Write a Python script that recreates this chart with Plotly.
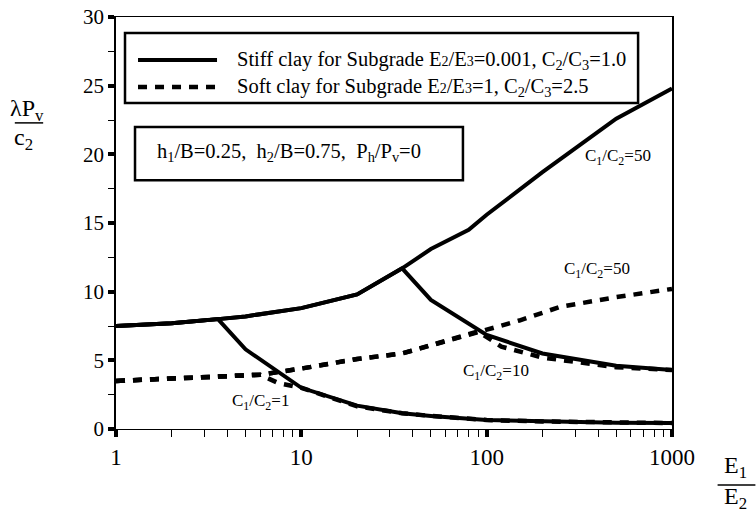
#!/usr/bin/env python3
"""Bearing capacity factor vs. modulus ratio E1/E2 (log scale)."""

import math
import plotly.graph_objects as go

# E1/E2 values and lambda*Pv/c2 readings, stiff clay subgrade (solid lines)
stiff_50_x = [1, 2, 3.55, 5, 10, 20, 35, 50, 80, 100, 200, 500, 1000]
stiff_50_y = [7.5, 7.7, 8.0, 8.2, 8.8, 9.8, 11.7, 13.1, 14.5, 15.6, 18.7, 22.6, 24.8]

stiff_10_x = [1, 2, 3.55, 5, 10, 20, 35, 50, 100, 200, 500, 1000]
stiff_10_y = [7.5, 7.7, 8.0, 8.2, 8.8, 9.8, 11.7, 9.4, 6.85, 5.5, 4.6, 4.3]

stiff_1_x = [1, 2, 3.55, 5, 10, 20, 35, 50, 100, 200, 500, 1000]
stiff_1_y = [7.5, 7.7, 8.0, 5.8, 3.0, 1.7, 1.15, 0.95, 0.65, 0.55, 0.45, 0.43]

# soft clay subgrade (dashed lines)
soft_50_x = [1, 2, 4, 6, 10, 20, 35, 50, 90, 150, 250, 500, 1000]
soft_50_y = [3.5, 3.7, 3.85, 3.95, 4.4, 5.1, 5.5, 6.1, 7.1, 7.9, 8.9, 9.6, 10.2]

soft_10_x = [1, 2, 4, 6, 10, 20, 35, 50, 90, 120, 200, 500, 1000]
soft_10_y = [3.5, 3.7, 3.85, 3.95, 4.4, 5.1, 5.5, 6.1, 7.1, 6.0, 5.2, 4.5, 4.3]

soft_1_x = [1, 2, 4, 6, 7.5, 10, 20, 35, 50, 100, 200, 500, 1000]
soft_1_y = [3.5, 3.7, 3.85, 3.95, 3.35, 3.0, 1.65, 1.15, 0.95, 0.65, 0.55, 0.45, 0.43]

# curve labels: (text, E1/E2, y)
curve_labels = [
    ("C<sub>1</sub>/C<sub>2</sub>=50", 510, 19.8),
    ("C<sub>1</sub>/C<sub>2</sub>=50", 395, 11.6),
    ("C<sub>1</sub>/C<sub>2</sub>=10", 112, 4.15),
    ("C<sub>1</sub>/C<sub>2</sub>=1", 6.05, 1.95),
]

y_ticks = [0, 5, 10, 15, 20, 25, 30]
x_ticks = [1, 10, 100, 1000]

FONT = "Liberation Serif, Times New Roman, serif"
SOLID = dict(color="black", width=4)
DASHED = dict(color="black", width=4.5, dash="9px,8px")
SP = "&nbsp;"


def small(d):
    return f'<span style="font-size:14px">{d}</span>'


def main():
    fig = go.Figure()

    for xs, ys in [(stiff_1_x, stiff_1_y), (stiff_10_x, stiff_10_y), (stiff_50_x, stiff_50_y)]:
        fig.add_trace(go.Scatter(x=xs, y=ys, mode="lines", line=SOLID, showlegend=False))
    for xs, ys in [(soft_1_x, soft_1_y), (soft_10_x, soft_10_y), (soft_50_x, soft_50_y)]:
        fig.add_trace(go.Scatter(x=xs, y=ys, mode="lines", line=DASHED, showlegend=False))

    # annotation x on a log axis is given as log10(value)
    for text, x, y in curve_labels:
        fig.add_annotation(x=math.log10(x), y=y, xref="x", yref="y", text=text, showarrow=False,
                           xanchor="center", yanchor="middle",
                           font=dict(family=FONT, size=17, color="black"))

    # legend box drawn by hand (long line samples)
    fig.add_shape(type="rect", xref="paper", yref="paper", x0=0.0162, x1=0.939, y0=0.791, y1=0.961,
                  line=dict(color="black", width=2.5), fillcolor="white", layer="above")
    fig.add_shape(type="line", xref="paper", yref="paper", x0=0.0396, x1=0.1817, y0=0.8956, y1=0.8956,
                  line=SOLID, layer="above")
    fig.add_shape(type="line", xref="paper", yref="paper", x0=0.0396, x1=0.1817, y0=0.830, y1=0.830,
                  line=DASHED, layer="above")
    legend_rows = [
        (f"Stiff clay for Subgrade E{small(2)}/E{small(3)}=0.001, C<sub>2</sub>/C<sub>3</sub>=1.0", 0.8956),
        (f"Soft clay for Subgrade E{small(2)}/E{small(3)}=1, C<sub>2</sub>/C<sub>3</sub>=2.5", 0.830),
    ]
    for text, y in legend_rows:
        fig.add_annotation(x=0.214, y=y, xref="paper", yref="paper", text=text, showarrow=False,
                           xanchor="left", yanchor="middle", font=dict(family=FONT, size=20.5, color="black"))

    # parameter box
    fig.add_shape(type="rect", xref="paper", yref="paper", x0=0.0342, x1=0.624, y0=0.604, y1=0.733,
                  line=dict(color="black", width=2.5), fillcolor="white", layer="above")
    fig.add_annotation(x=0.070, y=0.670, xref="paper", yref="paper",
                       text=f"h<sub>1</sub>/B=0.25,{SP} h<sub>2</sub>/B=0.75,{SP} P<sub>h</sub>/P<sub>v</sub>=0",
                       showarrow=False, xanchor="left", yanchor="middle",
                       font=dict(family=FONT, size=20.5, color="black"))

    # axis titles as stacked fractions
    title_font = dict(family=FONT, size=24, color="black")
    centred = dict(xref="paper", yref="paper", showarrow=False, xanchor="center", yanchor="middle",
                   font=title_font)
    fig.add_annotation(x=-0.160, y=0.775, text="λP<sub>v</sub>", **centred)
    fig.add_shape(type="line", xref="paper", yref="paper", x0=-0.182, x1=-0.131, y0=0.743, y1=0.743,
                  line=dict(color="black", width=1.5))
    fig.add_annotation(x=-0.167, y=0.703, text="c<sub>2</sub>", **centred)

    fig.add_annotation(x=1.115, y=-0.092, text="E<sub>1</sub>", **centred)
    fig.add_shape(type="line", xref="paper", yref="paper", x0=1.082, x1=1.15, y0=-0.136, y1=-0.136,
                  line=dict(color="black", width=1.5))
    fig.add_annotation(x=1.115, y=-0.168, text="E<sub>2</sub>", **centred)

    fig.update_xaxes(type="log", range=[0, 3], tickvals=x_ticks, ticktext=[str(v) for v in x_ticks],
                     showgrid=False, zeroline=False, showline=True, linecolor="black", linewidth=1,
                     mirror=True, ticks="outside", ticklen=7, tickwidth=4, tickcolor="black",
                     minor=dict(ticks="outside", ticklen=7, tickwidth=1, tickcolor="black",
                                dtick="D1", showgrid=False),
                     tickfont=dict(family=FONT, size=23, color="black"), automargin=False)
    fig.update_yaxes(range=[0, 30], tickvals=y_ticks, showgrid=False, zeroline=False,
                     showline=True, linecolor="black", linewidth=1.5, mirror=True,
                     ticks="outside", ticklen=6, tickwidth=4, tickcolor="black",
                     minor=dict(ticks="outside", ticklen=6, tickwidth=1, tickcolor="black",
                                dtick=2.5, showgrid=False),
                     tickfont=dict(family=FONT, size=21, color="black"), automargin=False)

    fig.update_layout(width=756, height=516, margin=dict(l=116, r=84, t=17, b=87),
                      plot_bgcolor="white", paper_bgcolor="white", showlegend=False)

    # drop the default page margin so the figure sits at the window corner
    fig.write_html("out.html", config={"displayModeBar": False},
                   post_script="document.body.style.margin='0px';")
    print("saved out.html")


if __name__ == "__main__":
    main()
